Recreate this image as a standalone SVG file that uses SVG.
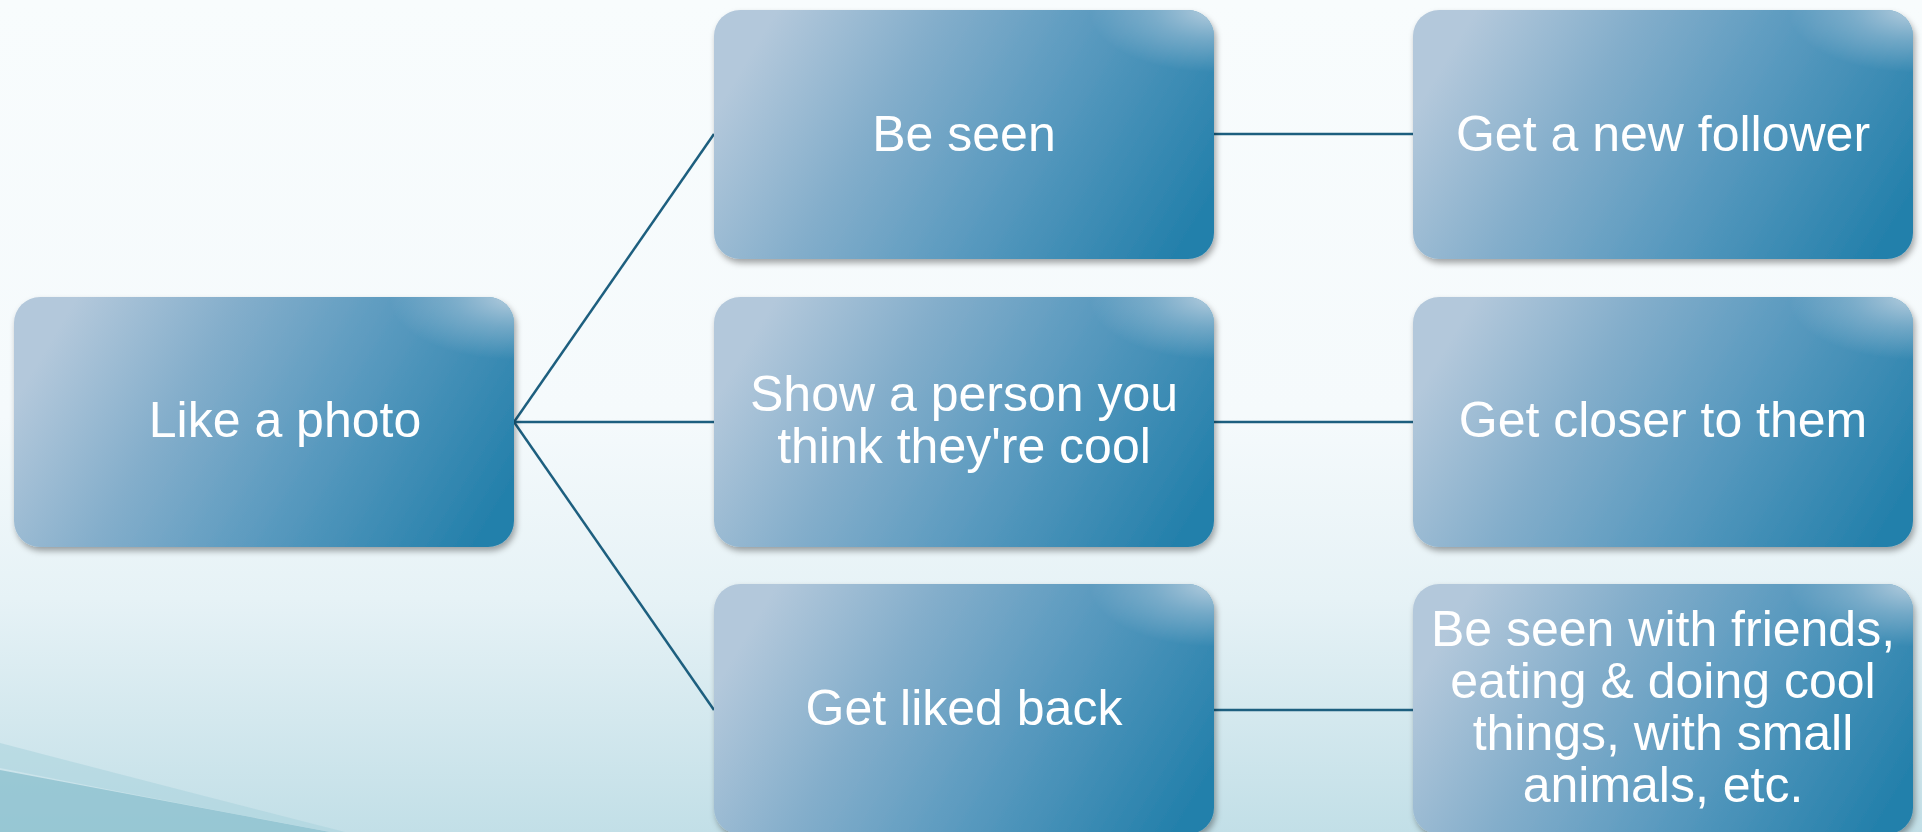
<svg xmlns="http://www.w3.org/2000/svg" width="1922" height="832" viewBox="0 0 1922 832">
<defs>
<linearGradient id="bg" x1="0" y1="0" x2="0" y2="1">
<stop offset="0" stop-color="#f8fcfd"/>
<stop offset="0.5" stop-color="#f5fafc"/>
<stop offset="0.72" stop-color="#e6f2f6"/>
<stop offset="1" stop-color="#c2dfe7"/>
</linearGradient>
<linearGradient id="nodeFill" x1="0" y1="0.42" x2="1" y2="0.72">
<stop offset="0" stop-color="#b3c8db"/>
<stop offset="0.3" stop-color="#84aecb"/>
<stop offset="0.6" stop-color="#5a9abf"/>
<stop offset="1" stop-color="#2480ab"/>
</linearGradient>
<radialGradient id="corner" cx="1" cy="0" r="0.25">
<stop offset="0" stop-color="#c3d5e3" stop-opacity="0.9"/>
<stop offset="0.5" stop-color="#b0c9dc" stop-opacity="0.45"/>
<stop offset="1" stop-color="#b0c9dc" stop-opacity="0"/>
</radialGradient>
<filter id="shadow" x="-5%" y="-5%" width="112%" height="115%">
<feDropShadow dx="2" dy="4" stdDeviation="3" flood-color="#000" flood-opacity="0.35"/>
</filter>
<style>
.box { fill: url(#nodeFill); filter: url(#shadow); }
.hl { fill: url(#corner); }
.lbl { font-family: "Liberation Sans", Arial, sans-serif; font-size: 50px; fill: #ffffff; text-anchor: middle; }
.conn { stroke: #1d5f7f; stroke-width: 2.5; fill: none; }
</style>
</defs>
<rect x="0" y="0" width="1922" height="832" fill="url(#bg)"/>
<path d="M0 770 Q 160 800 330 832 L 0 832 Z" fill="#8cc0ce" opacity="0.8"/>
<path d="M0 743 Q 180 790 345 832 L 330 832 Q 160 800 0 768 Z" fill="#acd3de" opacity="0.6"/>
<g id="connectors">
<line class="conn" x1="514" y1="422" x2="714" y2="134"/>
<line class="conn" x1="514" y1="422" x2="714" y2="422"/>
<line class="conn" x1="514" y1="422" x2="714" y2="710"/>
<line class="conn" x1="1214" y1="134" x2="1413" y2="134"/>
<line class="conn" x1="1214" y1="422" x2="1413" y2="422"/>
<line class="conn" x1="1214" y1="710" x2="1413" y2="710"/>
</g>
<g id="n-like">
<rect class="box" x="14" y="297" width="500" height="250" rx="26"/>
<rect class="hl" x="14" y="297" width="500" height="250" rx="26"/>
<text class="lbl" x="285" y="437">Like a photo</text>
</g>
<g id="n-beseen">
<rect class="box" x="714" y="10" width="500" height="249" rx="26"/>
<rect class="hl" x="714" y="10" width="500" height="249" rx="26"/>
<text class="lbl" x="964" y="151">Be seen</text>
</g>
<g id="n-show">
<rect class="box" x="714" y="297" width="500" height="250" rx="26"/>
<rect class="hl" x="714" y="297" width="500" height="250" rx="26"/>
<text class="lbl" x="964" y="411">Show a person you</text>
<text class="lbl" x="964" y="463">think they're cool</text>
</g>
<g id="n-likedback">
<rect class="box" x="714" y="584" width="500" height="250" rx="26"/>
<rect class="hl" x="714" y="584" width="500" height="250" rx="26"/>
<text class="lbl" x="964" y="725">Get liked back</text>
</g>
<g id="n-follower">
<rect class="box" x="1413" y="10" width="500" height="249" rx="26"/>
<rect class="hl" x="1413" y="10" width="500" height="249" rx="26"/>
<text class="lbl" x="1663" y="151">Get a new follower</text>
</g>
<g id="n-closer">
<rect class="box" x="1413" y="297" width="500" height="250" rx="26"/>
<rect class="hl" x="1413" y="297" width="500" height="250" rx="26"/>
<text class="lbl" x="1663" y="437">Get closer to them</text>
</g>
<g id="n-friends">
<rect class="box" x="1413" y="584" width="500" height="250" rx="26"/>
<rect class="hl" x="1413" y="584" width="500" height="250" rx="26"/>
<text class="lbl" x="1663" y="646">Be seen with friends,</text>
<text class="lbl" x="1663" y="698">eating &amp; doing cool</text>
<text class="lbl" x="1663" y="750">things, with small</text>
<text class="lbl" x="1663" y="802">animals, etc.</text>
</g>
</svg>
